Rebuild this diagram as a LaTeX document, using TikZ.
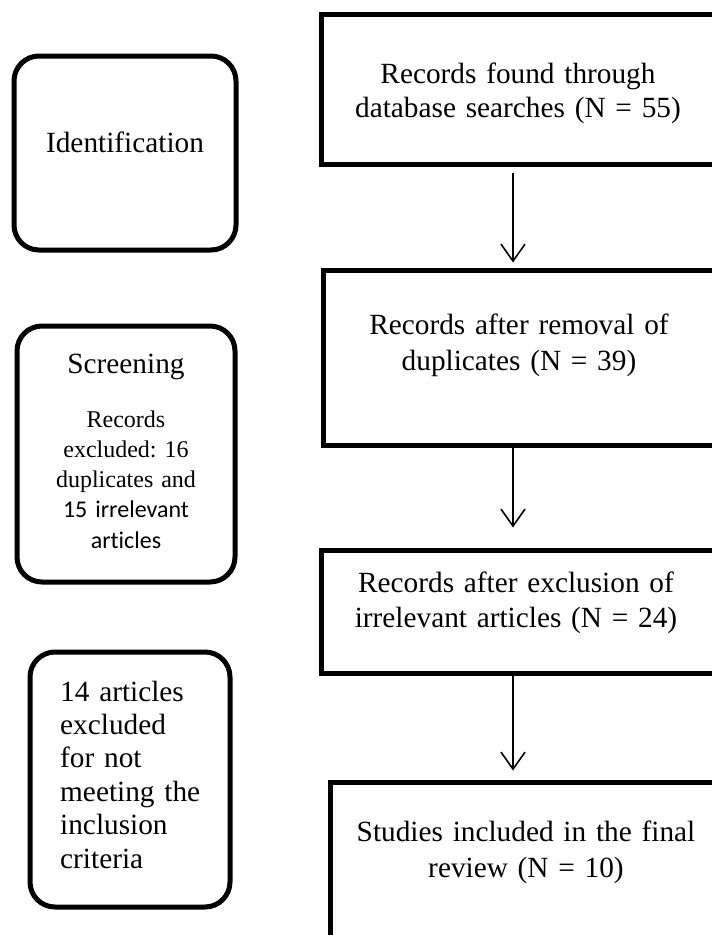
\documentclass[tikz,border=0pt]{standalone}
\usepackage{fontspec}
\setmainfont{Liberation Serif}
\newfontfamily\calibrifont[Ligatures=NoCommon]{Carlito}
\usetikzlibrary{arrows.meta}
\frenchspacing
\begin{document}
\begin{tikzpicture}[x=1pt,y=-1pt,
  mainbox/.style={draw, line width=5pt, rectangle, inner sep=0pt},
  roundbox/.style={draw, line width=5pt, rectangle, rounded corners=25pt, inner sep=0pt},
  bigtext/.style={inner sep=0pt, text width=400pt, align=center, anchor=base,
     font=\fontsize{29.3}{35}\selectfont\frenchspacing},
  arr/.style={line width=1.6pt, -{Straight Barb[length=17pt,width=24pt,line width=1.6pt]}}]
\useasboundingbox (0,0) rectangle (712,935);
\clip (0,0) rectangle (712,935);
\fill[white] (0,0) rectangle (712,935);
% main flow boxes
\node[mainbox, minimum width=439pt, minimum height=150pt] (b1) at (540.5,89) {};
\node[mainbox, minimum width=437pt, minimum height=175pt] (b2) at (541.5,357.5) {};
\node[mainbox, minimum width=393pt, minimum height=123pt] (b3) at (517.5,611.5) {};
\node[mainbox, minimum width=430pt, minimum height=178pt] (b4) at (545,871) {};
% texts of main boxes
\node[bigtext, font=\fontsize{29.3}{34}\selectfont\frenchspacing] (t1) at (518,83) {Records found through\\database searches (N = 55)};
\node[bigtext, font=\fontsize{29.3}{36}\selectfont\frenchspacing] (t2) at (519,334) {Records after removal of\\duplicates (N = 39)};
\node[bigtext] (t3) at (516,592) {Records after exclusion of\\irrelevant articles (N = 24)};
\node[bigtext, font=\fontsize{29.3}{36}\selectfont\frenchspacing] (t4) at (526,841) {Studies included in the final\\review (N = 10)};
% left stage boxes
\node[roundbox, minimum width=222pt, minimum height=194pt] (r1) at (125,153) {};
\node[roundbox, minimum width=218pt, minimum height=256pt] (r2) at (126,454) {};
\node[roundbox, minimum width=200pt, minimum height=255pt] (r3) at (130,779.5) {};
\node[bigtext, text width=200pt] (l1) at (125,152) {Identification};
\node[bigtext, text width=200pt] (l2) at (126,373) {Screening};
\node[inner sep=0pt, text width=200pt, align=center, anchor=base,
      font=\fontsize{24}{30}\selectfont\frenchspacing] (l2b) at (126,427)
      {Records\\excluded: 16\\duplicates and\\{\calibrifont 15 irrelevant}\\[1pt]{\calibrifont articles}};
\node[inner sep=0pt, text width=180pt, align=left, anchor=base west,
      font=\fontsize{29.3}{33.4}\selectfont] (l3) at (60,701)
      {14 articles\\excluded\\for not\\meeting the\\inclusion\\criteria};
% arrows
\coordinate (ax) at (513,0);
\draw[arr] ([yshift=-6pt]b1.south -| ax) -- ([yshift=5pt]b2.north -| ax);
\draw[arr] (b2.south -| ax) -- ([yshift=20pt]b3.north -| ax);
\draw[arr] ([yshift=3pt]b3.south -| ax) -- ([yshift=9pt]b4.north -| ax);
\end{tikzpicture}
\end{document}
